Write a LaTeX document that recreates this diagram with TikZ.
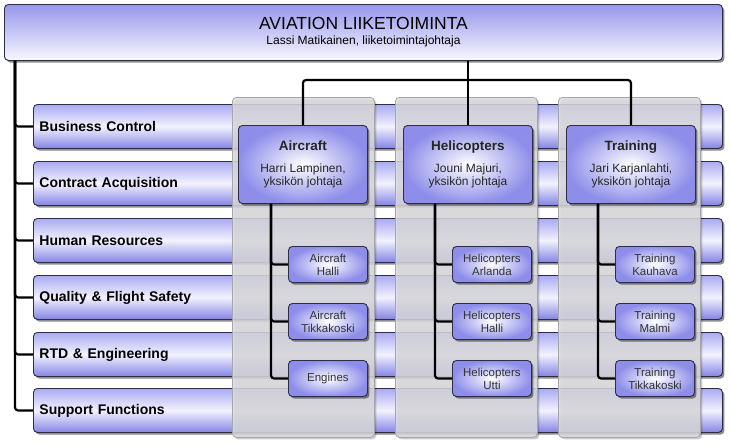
\documentclass[tikz,border=0pt]{standalone}
\usepackage{fontspec}
\setmainfont{Liberation Sans}
\usetikzlibrary{shadows,calc}
\definecolor{rowtop}{RGB}{170,170,242}
\definecolor{rowmid}{RGB}{242,242,255}
\definecolor{rowbot}{RGB}{132,132,228}
\definecolor{boxline}{RGB}{45,45,70}
\definecolor{headout}{RGB}{142,142,234}
\definecolor{toptop}{RGB}{150,150,236}
\definecolor{topbot}{RGB}{248,248,255}
\definecolor{panelfill}{RGB}{220,220,224}
\definecolor{panelline}{RGB}{165,165,170}
\begin{document}
\begin{tikzpicture}[x=1pt,y=-1pt,
  shadowed/.style={drop shadow={shadow xshift=2pt, shadow yshift=-2.2pt, opacity=0.45, fill=black}},
  box/.style={draw=boxline, line width=0.9pt, rounded corners=4pt, shadowed},
  topbox/.style={box, top color=toptop, bottom color=topbot, minimum width=718pt, minimum height=56pt, anchor=north west, align=center, inner sep=0pt},
  rowbox/.style={box, top color=rowtop, bottom color=rowbot, middle color=rowmid, minimum width=689pt, minimum height=44pt, text width=677pt, inner xsep=6pt, inner ysep=0pt, align=left, anchor=north west, font=\bfseries\fontsize{14}{16}\selectfont},
  panel/.style={draw=panelline, line width=0.8pt, rounded corners=4pt, fill=panelfill, fill opacity=0.84, minimum width=142pt, minimum height=340pt, anchor=north west, drop shadow={shadow xshift=2pt, shadow yshift=-2pt, opacity=0.2, fill=black}},
  headbox/.style={box, inner color=white, outer color=headout, minimum width=129pt, minimum height=78pt, anchor=north west, align=center, inner sep=0pt, text=black!85, font=\fontsize{12}{13.5}\selectfont},
  subbox/.style={box, inner color=white, outer color=headout, minimum width=79pt, minimum height=36pt, anchor=north west, align=center, inner sep=0pt, text=black!80, font=\fontsize{11.5}{13}\selectfont},
  conn/.style={draw=black, line width=2.2pt, rounded corners=3pt}
]
\fill[white] (0,0) rectangle (730,445);
\useasboundingbox (0,0) rectangle (730,445);

% top box
\node[topbox] (top) at (4,4) {{\fontsize{17.5}{19}\selectfont AVIATION LIIKETOIMINTA}\\[3pt]{\fontsize{12}{13}\selectfont Lassi Matikainen, liiketoimintajohtaja}};

% rows
\node[rowbox] (r1) at (33,104) {Business Control};
\node[rowbox] (r2) at (33,161) {Contract Acquisition};
\node[rowbox] (r3) at (33,218) {Human Resources};
\node[rowbox] (r4) at (33,275) {Quality \& Flight Safety};
\node[rowbox] (r5) at (33,332) {RTD \& Engineering};
\node[rowbox] (r6) at (33,388) {Support Functions};

% left connector
\coordinate (lv) at (15,60);
\foreach \r in {r1,r2,r3,r4,r5,r6} {
  \draw[conn] (top.south -| lv) |- (\r.west);
}

% panels
\node[panel] (pa) at (232,97) {};
\node[panel] (ph) at (395,97) {};
\node[panel] (pt) at (558,97) {};

% header boxes
\node[headbox] (ha) at (238,125) {{\bfseries\fontsize{13.5}{15}\selectfont Aircraft}\\[8pt]Harri Lampinen,\\yksikön johtaja};
\node[headbox] (hh) at (403,125) {{\bfseries\fontsize{13.5}{15}\selectfont Helicopters}\\[8pt]Jouni Majuri,\\yksikön johtaja};
\node[headbox] (ht) at (566,125) {{\bfseries\fontsize{13.5}{15}\selectfont Training}\\[8pt]Jari Karjanlahti,\\yksikön johtaja};

% top connectors
\coordinate (bus) at (466,80);
\draw[conn] (top.south -| hh.north) -- (hh.north);
\draw[conn] (ha.north) -- (ha.north |- bus) -- (ht.north |- bus) -- (ht.north);

% sub boxes
\node[subbox] (a1) at (288,246) {Aircraft\\Halli};
\node[subbox] (a2) at (288,303) {Aircraft\\Tikkakoski};
\node[subbox] (a3) at (288,360) {Engines};
\node[subbox] (h1) at (452,246) {Helicopters\\Arlanda};
\node[subbox] (h2) at (452,303) {Helicopters\\Halli};
\node[subbox] (h3) at (452,360) {Helicopters\\Utti};
\node[subbox] (t1) at (615,246) {Training\\Kauhava};
\node[subbox] (t2) at (615,303) {Training\\Malmi};
\node[subbox] (t3) at (615,360) {Training\\Tikkakoski};

% sub connectors
\coordinate (av) at (271,203);
\coordinate (hv) at (435,203);
\coordinate (tv) at (598,203);
\foreach \s in {a1,a2,a3} { \draw[conn] (ha.south -| av) |- (\s.west); }
\foreach \s in {h1,h2,h3} { \draw[conn] (hh.south -| hv) |- (\s.west); }
\foreach \s in {t1,t2,t3} { \draw[conn] (ht.south -| tv) |- (\s.west); }
\end{tikzpicture}
\end{document}
